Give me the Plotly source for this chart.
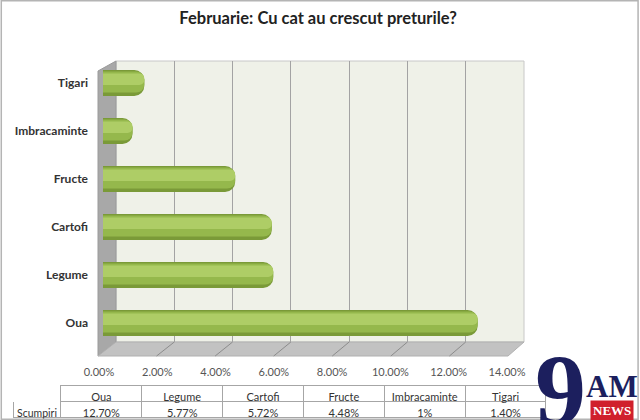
import plotly.graph_objects as go

# date
categorii = ["Oua", "Legume", "Cartofi", "Fructe", "Imbracaminte", "Tigari"]
scumpiri = [12.70, 5.77, 5.72, 4.48, 1.0, 1.40]
tabel_text = ["12.70%", "5.77%", "5.72%", "4.48%", "1%", "1.40%"]
tick_vals = [0, 2, 4, 6, 8, 10, 12, 14]
tick_text = ["0.00%", "2.00%", "4.00%", "6.00%", "8.00%", "10.00%", "12.00%", "14.00%"]
rand_tabel = "Scumpiri"
titlu = "Februarie: Cu cat au crescut preturile?"

W, H = 640, 420
FONT = "Lato"


def fx(p):
    return p / W


def fy(p):
    return 1 - p / H


# geometrie "3D" (pixeli)
BACK_L, BACK_R, BACK_T, BACK_B = 116, 524, 61, 342
FRONT_L, FRONT_R, FRONT_B = 98, 508, 356
BAR_L, BAR_R = 103, 103 + 14 * 29.5

fig = go.Figure()

# urma invizibila ca sa apara grila din spate
fig.add_trace(go.Scatter(x=tick_vals, y=[0.5] * len(tick_vals), mode="markers",
                         marker=dict(opacity=0), xaxis="x", yaxis="y",
                         hoverinfo="skip", showlegend=False))

# cilindri: trei straturi suprapuse pentru umbrire
straturi = [
    (0.54, -0.27, "#7a9a38", 10),
    (0.44, -0.20, "#95b84c", 8),
    (0.24, -0.04, "#aecd66", 5),
]
for w, off, col, r in straturi:
    fig.add_trace(go.Bar(
        x=scumpiri, y=categorii, orientation="h",
        width=w, offset=off,
        marker=dict(color=col, line=dict(width=0), cornerradius=r),
        xaxis="x2", yaxis="y2", hoverinfo="skip", showlegend=False,
    ))

# tabel de date
fig.add_trace(go.Table(
    domain=dict(x=[fx(13), fx(546)], y=[0, fy(385)]),
    columnwidth=[48] + [81] * len(categorii),
    header=dict(
        values=[""] + categorii,
        align="center", height=16,
        fill_color="white",
        line=dict(color=["white"] + ["#a6a6a6"] * len(categorii), width=1),
        font=dict(family=FONT, size=11, color="#333333"),
    ),
    cells=dict(
        values=[[rand_tabel]] + [[t] for t in tabel_text],
        align="center", height=16,
        fill_color="white",
        line=dict(color="#a6a6a6", width=1),
        font=dict(family=FONT, size=[10.5] + [11] * len(categorii), color="#333333"),
    ),
))

shapes = []
# peretele din spate
shapes.append(dict(type="rect", xref="paper", yref="paper", layer="below",
                   x0=fx(BACK_L), x1=fx(BACK_R), y0=fy(BACK_B), y1=fy(BACK_T),
                   fillcolor="#eff1e8", line=dict(color="#c8c8c8", width=1)))
# peretele din stanga
shapes.append(dict(type="path", xref="paper", yref="paper", layer="below",
                   path=f"M{fx(FRONT_L)},{fy(BACK_T + 10)} L{fx(BACK_L)},{fy(BACK_T)} "
                        f"L{fx(BACK_L)},{fy(BACK_B)} L{fx(FRONT_L)},{fy(FRONT_B)} Z",
                   fillcolor="#a8a8a8", line=dict(color="#9a9a9a", width=1)))
# podeaua
shapes.append(dict(type="path", xref="paper", yref="paper", layer="below",
                   path=f"M{fx(FRONT_L)},{fy(FRONT_B)} L{fx(BACK_L)},{fy(BACK_B)} "
                        f"L{fx(BACK_R)},{fy(BACK_B)} L{fx(FRONT_R)},{fy(FRONT_B)} Z",
                   fillcolor="#c2c2c2", line=dict(color="#b0b0b0", width=1)))
for v in tick_vals[1:-1]:
    xb = BACK_L + v * (BACK_R - BACK_L) / 14
    xf = FRONT_L + v * (FRONT_R - FRONT_L) / 14
    shapes.append(dict(type="line", xref="paper", yref="paper", layer="below",
                       x0=fx(xb), y0=fy(BACK_B), x1=fx(xf), y1=fy(FRONT_B),
                       line=dict(color="#8c8c8c", width=1)))
# chenar
shapes.append(dict(type="rect", xref="paper", yref="paper",
                   x0=0.002, x1=0.997, y0=0.002, y1=0.998,
                   line=dict(color="#b4b4b4", width=1.5)))

annotations = [
    # logo 9AM NEWS
    dict(text="<b>9</b>", x=fx(560), y=fy(390), xref="paper", yref="paper",
         xanchor="center", yanchor="middle", showarrow=False,
         font=dict(family="Liberation Serif", size=102, color="#1c1f5e")),
    dict(text="<b>AM</b>", x=fx(612), y=fy(386), xref="paper", yref="paper",
         xanchor="center", yanchor="middle", showarrow=False,
         font=dict(family="Liberation Serif", size=31, color="#1c1f5e")),
    dict(text="<b>NEWS</b>", x=fx(612), y=fy(410), xref="paper", yref="paper",
         xanchor="center", yanchor="middle", showarrow=False,
         bgcolor="#d0202c", borderpad=2,
         font=dict(family="Liberation Serif", size=13, color="white")),
]

fig.update_layout(
    width=W, height=H, autosize=False,
    margin=dict(l=0, r=0, t=0, b=0, autoexpand=False),
    paper_bgcolor="white", plot_bgcolor="rgba(0,0,0,0)",
    barmode="overlay", showlegend=False,
    title=dict(text=titlu, x=0.497, xanchor="center", y=fy(18), yanchor="middle",
               font=dict(family=FONT, size=16.5, color="#222222", weight="bold")),
    font=dict(family=FONT),
    # axa din spate: grila + etichete procente
    xaxis=dict(domain=[fx(BACK_L), fx(BACK_R)], range=[0, 14], anchor="y",
               tickvals=tick_vals, ticktext=tick_text, automargin=False,
               showgrid=True, gridcolor="#a3a3a3", gridwidth=1,
               zeroline=False, showline=False, ticks="",
               ticklabelshift=-17, ticklabelstandoff=22,
               tickfont=dict(family=FONT, size=11, color="#555555")),
    yaxis=dict(domain=[fy(BACK_B), fy(BACK_T)], range=[0, 1], anchor="x",
               visible=False, automargin=False),
    # axa barelor
    xaxis2=dict(domain=[fx(BAR_L), fx(BAR_R)], range=[0, 14], anchor="y2",
                visible=False, automargin=False),
    yaxis2=dict(domain=[fy(347), fy(59)], anchor="x2", type="category",
                categoryorder="array", categoryarray=categorii,
                range=[-0.5, len(categorii) - 0.5], automargin=False,
                showgrid=False, zeroline=False, showline=False, ticks="",
                ticklabelstandoff=14,
                tickfont=dict(family=FONT, size=12, color="#333333", weight="bold")),
    shapes=shapes,
    annotations=annotations,
)

# fara marginea implicita a paginii, ca figura sa inceapa din coltul ferestrei
fig.write_html("out.html", config={"displayModeBar": False},
               post_script="document.body.style.margin='0';")
